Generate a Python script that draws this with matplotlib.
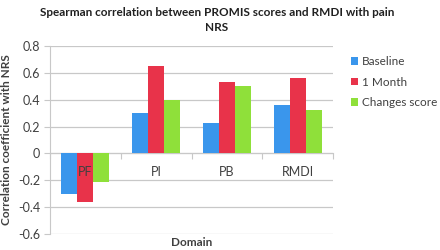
import numpy as np
from matplotlib import pyplot as plt

# data
domains = ['PF', 'PI', 'PB', 'RMDI']
series_names = ['Baseline', '1 Month', 'Changes score']
baseline = [-0.30, 0.30, 0.23, 0.36]
one_month = [-0.36, 0.65, 0.53, 0.56]
changes_score = [-0.21, 0.40, 0.50, 0.32]
y_ticks = [-0.6, -0.4, -0.2, 0, 0.2, 0.4, 0.6, 0.8]
y_tick_labels = ['-0.6', '-0.4', '-0.2', '0', '0.2', '0.4', '0.6', '0.8']

colors = ['#3a96ec', '#e8334a', '#8fe03a']
grid_col = '#c8c8c8'
text_col = '#404040'

plt.rcParams['font.family'] = ['Lato', 'DejaVu Sans']

fig = plt.figure(figsize=(4.4, 2.5), dpi=100)
ax = fig.add_axes([50 / 440, 16 / 250, 283 / 440, 188 / 250])

x = np.arange(len(domains))
w = 0.225
for i, vals in enumerate([baseline, one_month, changes_score]):
    ax.bar(x + (i - 1) * w, vals, w, color=colors[i], label=series_names[i], zorder=3)

ax.set_xlim(-0.5, len(domains) - 0.5)
ax.set_ylim(-0.6, 0.8)
ax.set_yticks(y_ticks)
ax.set_yticklabels(y_tick_labels, fontsize=9, color=text_col)
ax.tick_params(axis='y', length=4, color=grid_col, pad=3)
ax.grid(axis='y', color=grid_col, linewidth=0.9, zorder=0)

# category axis sits on the zero line
ax.spines['bottom'].set_position(('data', 0))
ax.spines['bottom'].set_color(grid_col)
ax.spines['left'].set_color(grid_col)
ax.spines['top'].set_visible(False)
ax.spines['right'].set_visible(False)
ax.set_xticks(np.arange(len(domains) + 1) - 0.5)
ax.set_xticklabels([])
ax.tick_params(axis='x', length=4, color=grid_col)

# category names drawn over the bars (PF sits on top of the red bar)
for xi, name in zip(x, domains):
    ax.text(xi, -0.135, name, ha='center', va='center', fontsize=9,
            color=text_col, zorder=5)

ax.set_ylabel('Correlation coefficient with NRS', fontsize=8.5, fontweight='bold',
              color=text_col, labelpad=4)
fig.text(192 / 440, 8 / 250, 'Domain', ha='center', va='center', fontsize=8.5,
         fontweight='bold', color=text_col)
fig.text(217 / 440, 1 - 20 / 250,
         'Spearman correlation between PROMIS scores and RMDI with pain\nNRS',
         ha='center', va='center', fontsize=8.5, fontweight='bold', color='#202020',
         linespacing=1.5)

ax.legend(loc='center left', bbox_to_anchor=(340 / 440, 168 / 250),
          bbox_transform=fig.transFigure, frameon=False, fontsize=8.5,
          handlelength=0.6, handleheight=0.6, handletextpad=0.35,
          labelspacing=0.8, labelcolor=text_col)

fig.savefig('out.png', dpi=100)
